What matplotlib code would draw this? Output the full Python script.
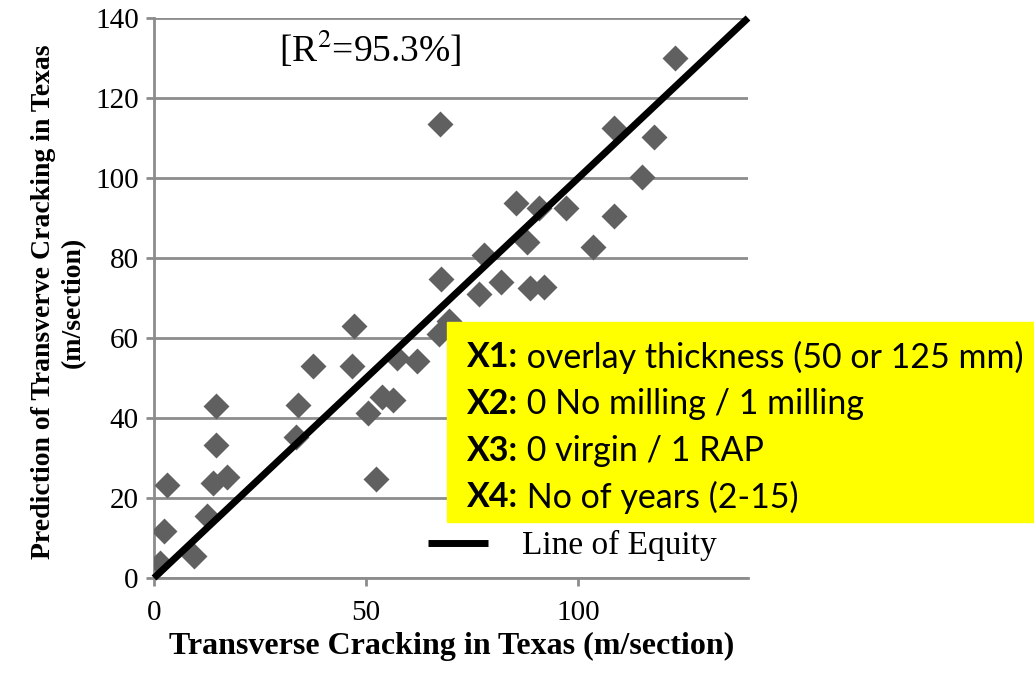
import matplotlib.pyplot as plt

# measured vs. predicted transverse cracking (m/section)
measured = [1.4, 2.4, 3.1, 9.5, 12.4, 14.0, 17.3, 14.5, 14.6, 33.5, 33.9, 37.5,
            46.6, 47.2, 50.4, 52.3, 53.7, 56.3, 57.3, 62.1, 67.2, 69.6, 67.7,
            81.7, 76.5, 88.6, 91.9, 77.8, 87.8, 103.5, 85.3, 90.8, 97.1, 108.5,
            115.1, 67.4, 108.3, 117.9, 122.8]
predicted = [3.7, 11.75, 23.25, 5.6, 15.6, 23.7, 25.3, 33.25, 43.0, 35.3, 43.25, 53.1,
             53.0, 63.0, 41.2, 24.75, 45.2, 44.5, 54.9, 54.25, 60.9, 64.3, 74.7,
             74.1, 70.9, 72.6, 72.8, 80.75, 83.9, 82.8, 93.8, 92.6, 92.4, 90.5,
             100.3, 113.4, 112.4, 110.3, 130.0]
equity = [0, 140]

box_lines = [("X1:", " overlay thickness (50 or 125 mm)"),
             ("X2:", " 0 No milling / 1 milling"),
             ("X3:", " 0 virgin / 1 RAP"),
             ("X4:", " No of years (2-15)")]

plt.rcParams['font.family'] = ['Liberation Serif', 'DejaVu Serif']

W, H = 1034, 673
fig = plt.figure(figsize=(W / 100, H / 100), dpi=100)
ax = fig.add_axes([154 / W, 1 - 578 / H, 594 / W, 560 / H])

ax.scatter(measured, predicted, marker='D', s=175, color='#606060', zorder=3, linewidths=0)
ax.plot(equity, equity, color='black', lw=5, label='Line of Equity', zorder=4,
        clip_on=False, solid_capstyle='butt')

ax.set_xlim(0, 140)
ax.set_ylim(0, 140)
ax.set_xticks([0, 50, 100])
ax.set_yticks(range(0, 141, 20))
ax.yaxis.grid(True, color='#8c8c8c', lw=2)
ax.set_axisbelow(True)
for s in ['top', 'right']:
    ax.spines[s].set_visible(False)
for s in ['left', 'bottom']:
    ax.spines[s].set_color('#8c8c8c')
    ax.spines[s].set_linewidth(2)
ax.tick_params(axis='both', colors='#8c8c8c', width=2, length=6, labelsize=21,
               labelcolor='black')
ax.tick_params(axis='x', pad=10)
ax.tick_params(axis='y', pad=5)

fig.text(452 / W, 1 - 646 / H, "Transverse Cracking in Texas (m/section)", fontsize=23,
         fontweight='bold', ha='center', va='center')
fig.text(58 / W, 1 - 302 / H, "Prediction of Transverve Cracking in Texas\n(m/section)",
         fontsize=20, fontweight='bold', ha='center', va='center', rotation=90,
         multialignment='center', linespacing=1.25)

ax.text(0.21, 0.945, r"[R$^2$=95.3%]", transform=ax.transAxes, fontsize=27,
        va='center', ha='left', math_fontfamily='stix')

leg = ax.legend(loc='lower left', bbox_to_anchor=(0.462, 0.03), frameon=False,
                fontsize=24, handlelength=1.8, handletextpad=1.0,
                borderpad=0, borderaxespad=0)

# yellow annotation box
fig.patches.append(plt.Rectangle((447 / W, 1 - 522 / H), 600 / W, 200 / H,
                                 transform=fig.transFigure, color='#ffff00', zorder=5))
ys = [357, 404, 451, 497]
for (key, rest), yp in zip(box_lines, ys):
    t = fig.text(467 / W, 1 - yp / H, key, fontsize=24.5, fontweight='bold',
                 family='Lato', va='center', ha='left', zorder=6)
    fig.canvas.draw()
    bb = t.get_window_extent()
    fig.text(bb.x1 / W, 1 - yp / H, rest, fontsize=24.5, family='Lato',
             va='center', ha='left', zorder=6)

fig.savefig("out.png", dpi=100)
